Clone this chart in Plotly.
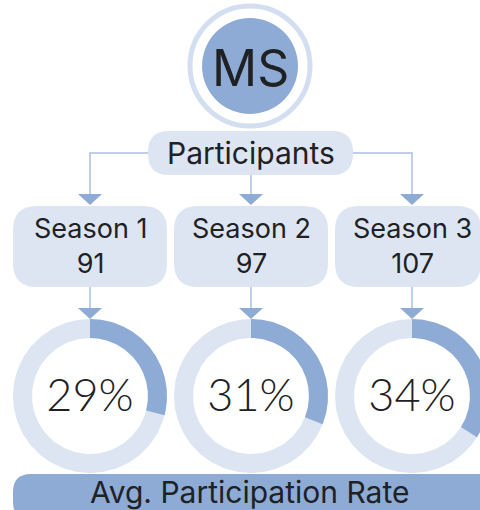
import numpy as np
import plotly.graph_objects as go

seasons = ["Season 1", "Season 2", "Season 3"]
participants = [91, 97, 107]
avg_rate = [29, 31, 34]  # percent

center_label = "MS"
head_label = "Participants"
foot_label = "Avg. Participation Rate"

DARK = "#8dabd4"
LIGHT = "#dde5f2"
LINE = "#a9c0e0"
TEXT = "#202124"
FONT = "Inter"

W, H = 480, 510
col_x = [90, 251, 412]
box_x = [(13, 167), (174, 328), (335, 481)]
donut_y = 396
r_out, r_in = 77, 58


def ring(cx, cy, r1, r2, start, end, n=180):
    # angles in degrees, clockwise from 12 o'clock (y axis points down)
    t = np.radians(np.linspace(start, end, n))
    xo = cx + r1 * np.sin(t)
    yo = cy - r1 * np.cos(t)
    xi = cx + r2 * np.sin(t[::-1])
    yi = cy - r2 * np.cos(t[::-1])
    return np.r_[xo, xi, xo[0]], np.r_[yo, yi, yo[0]]


def rounded(x0, y0, x1, y1, r):
    return (f"M{x0+r},{y0} L{x1-r},{y0} Q{x1},{y0} {x1},{y0+r} "
            f"L{x1},{y1-r} Q{x1},{y1} {x1-r},{y1} L{x0+r},{y1} "
            f"Q{x0},{y1} {x0},{y1-r} L{x0},{y0+r} Q{x0},{y0} {x0+r},{y0} Z")


def arrow(x, y_top, y_tip, half=12):
    return f"M{x-half},{y_top} L{x+half},{y_top} L{x},{y_tip} Z"


fig = go.Figure()

# donuts
for cx, rate in zip(col_x, avg_rate):
    xs, ys = ring(cx, donut_y, r_out, r_in, 0, 360)
    fig.add_trace(go.Scatter(x=xs, y=ys, mode="lines", fill="toself",
                             fillcolor=LIGHT, line=dict(width=0),
                             hoverinfo="skip"))
    xs, ys = ring(cx, donut_y, r_out, r_in, 0, rate / 100 * 360)
    fig.add_trace(go.Scatter(x=xs, y=ys, mode="lines", fill="toself",
                             fillcolor=DARK, line=dict(width=0),
                             hoverinfo="skip"))

fig.add_trace(go.Scatter(
    x=col_x, y=[donut_y + 4] * len(col_x), mode="text",
    text=[f"{v}%" for v in avg_rate],
    textfont=dict(family="Lato", size=45, color=TEXT, weight=300),
    hoverinfo="skip",
))

shapes = []
# top badge
shapes.append(dict(type="circle", x0=250 - 60, x1=250 + 60, y0=66 - 60, y1=66 + 60,
                   line=dict(color="#d3dff0", width=5), fillcolor="white"))
shapes.append(dict(type="circle", x0=250 - 48, x1=250 + 48, y0=66 - 48, y1=66 + 48,
                   line=dict(width=0), fillcolor=DARK))

# connectors from header
shapes.append(dict(type="path", path=f"M148,153 L{col_x[0]},153 L{col_x[0]},195",
                   line=dict(color=LINE, width=1.5)))
shapes.append(dict(type="path", path=f"M353,153 L{col_x[2]},153 L{col_x[2]},195",
                   line=dict(color=LINE, width=1.5)))
shapes.append(dict(type="path", path=f"M{col_x[1]},175 L{col_x[1]},195",
                   line=dict(color=LINE, width=1.5)))
shapes.append(dict(type="path", path=rounded(148, 131, 353, 175, 21),
                   fillcolor=LIGHT, line=dict(width=0)))

for cx, (bx0, bx1) in zip(col_x, box_x):
    shapes.append(dict(type="path", path=arrow(cx, 194, 205),
                       fillcolor=DARK, line=dict(width=0)))
    shapes.append(dict(type="path", path=rounded(bx0, 206, bx1, 287, 24),
                       fillcolor=LIGHT, line=dict(width=0)))
    shapes.append(dict(type="path", path=f"M{cx},287 L{cx},309",
                       line=dict(color=LINE, width=1.5)))
    shapes.append(dict(type="path", path=arrow(cx, 308, 319),
                       fillcolor=DARK, line=dict(width=0), layer="above"))

# footer bar
shapes.append(dict(type="path", path=rounded(13, 474, 500, 520, 18),
                   fillcolor=DARK, line=dict(width=0)))

annotations = [
    dict(x=250, y=68, text=center_label, showarrow=False,
         font=dict(family=FONT, size=50, color=TEXT)),
    dict(x=251, y=153, text=head_label, showarrow=False,
         font=dict(family=FONT, size=30, color=TEXT)),
    dict(x=249, y=492, text=foot_label, showarrow=False,
         font=dict(family=FONT, size=30, color=TEXT)),
]
for cx, name, n in zip(col_x, seasons, participants):
    annotations.append(dict(x=cx, y=246, text=f"{name}<br>{n}", showarrow=False,
                            font=dict(family=FONT, size=27, color=TEXT)))

fig.update_layout(
    width=W, height=H,
    margin=dict(l=0, r=0, t=0, b=0),
    paper_bgcolor="white", plot_bgcolor="white",
    showlegend=False,
    xaxis=dict(range=[0, W], visible=False, fixedrange=True),
    yaxis=dict(range=[H, 0], visible=False, fixedrange=True),
    shapes=shapes,
    annotations=annotations,
)

# drop the default page margin so the figure sits at the window's corner
fig.write_html("out.html", config={"displayModeBar": False},
               post_script="document.body.style.margin='0';")
